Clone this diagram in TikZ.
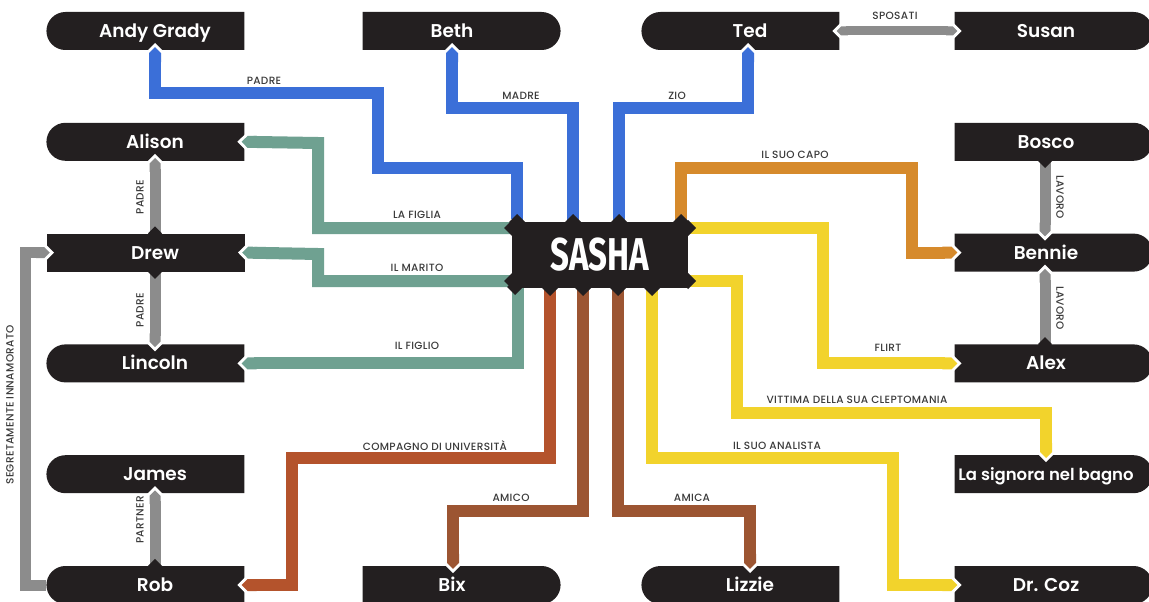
\documentclass[tikz,border=0pt]{standalone}
\usepackage{fontspec}
\setmainfont{Poppins}
\IfFontExistsTF{Poppins SemiBold}
  {\newfontfamily\namefont{Poppins SemiBold}}
  {\IfFontExistsTF{Poppins Medium}{\newfontfamily\namefont{Poppins Medium}}{\newfontfamily\namefont{Poppins}}}
\IfFontExistsTF{Poppins Medium}
  {\newfontfamily\lblfont{Poppins Medium}[LetterSpace=3]}
  {\newfontfamily\lblfont{Poppins}[LetterSpace=4]}
\newfontfamily\sashafont{Fira Sans}
\usetikzlibrary{positioning,shapes.misc,arrows.meta}

\definecolor{boxblack}{HTML}{231F20}
\definecolor{relblue}{HTML}{3B6FD8}
\definecolor{relteal}{HTML}{6FA191}
\definecolor{relorange}{HTML}{D68A2C}
\definecolor{relyellow}{HTML}{F2D32C}
\definecolor{relrust}{HTML}{B4532C}
\definecolor{relbrown}{HTML}{9C5532}
\definecolor{relgray}{HTML}{8C8C8C}
\definecolor{labelgray}{HTML}{3A3A3A}

% name text pushed sideways inside its box
\newcommand{\nm}[2]{\makebox[0pt]{\hspace{#1}#2}}

\tikzset{
  person/.style={fill=boxblack, text=white, minimum width=198pt, minimum height=38pt,
    inner sep=0pt, text height=13pt, text depth=0pt, font=\namefont\fontsize{18.5}{18.5}\selectfont},
  roundleft/.style={person, rounded rectangle, rounded rectangle right arc=none},
  roundright/.style={person, rounded rectangle, rounded rectangle left arc=none},
  squarebox/.style={person, rectangle},
  rel/.style={line width=12pt, -{Triangle Cap}, shorten >=-3pt,
    preaction={draw=white, line width=18pt, -{Triangle Cap}, shorten >=-7.2pt}},
  mutual/.style={line width=9pt, {Triangle Cap}-{Triangle Cap}, shorten >=-3pt, shorten <=-3pt,
    preaction={draw=white, line width=15pt, {Triangle Cap}-{Triangle Cap},
      shorten >=-7.2pt, shorten <=-7.2pt}},
  lbl/.style={font=\lblfont\fontsize{10.5}{10.5}\selectfont, text=labelgray, inner sep=0pt}
}

\begin{document}
\begin{tikzpicture}[x=1pt, y=-1pt, node distance=110.8pt]
  \useasboundingbox (0,0) rectangle (1149,602);

  % people
  \node[roundleft] (andy) at (146,31) {\nm{18pt}{Andy Grady}};
  \node[roundleft] (alison) [below of=andy] {\nm{18pt}{Alison}};
  \node[squarebox] (drew) [below of=alison] {\nm{18pt}{Drew}};
  \node[roundleft] (lincoln) [below of=drew] {\nm{18pt}{Lincoln}};
  \node[roundleft] (james) [below of=lincoln] {\nm{18pt}{James}};
  \node[roundleft] (rob) [below of=james] {\nm{18pt}{Rob}};

  \node[roundright] (beth) at (461,31) {\nm{-18pt}{Beth}};
  \node[roundright] (bix) at (461,585) {\nm{-18pt}{Bix}};
  \node[roundleft] (ted) at (741,31) {\nm{18pt}{Ted}};
  \node[roundleft] (lizzie) at (741,585) {\nm{18pt}{Lizzie}};

  \node[roundright] (susan) at (1053,31) {\nm{-14pt}{Susan}};
  \node[roundright] (bosco) [below of=susan] {\nm{-14pt}{Bosco}};
  \node[roundright] (bennie) [below of=bosco] {\nm{-14pt}{Bennie}};
  \node[roundright] (alex) [below of=bennie] {\nm{-14pt}{Alex}};
  \node[roundright] (signora) [below of=alex] {\nm{-14pt}{\fontsize{16.5}{16.5}\selectfont La signora nel bagno}};
  \node[roundright] (coz) [below of=signora] {\nm{-14pt}{Dr. Coz}};

  \node[fill=boxblack, minimum width=176pt, minimum height=66pt, inner sep=0pt, text=white]
    (sasha) at (600,255) {\raisebox{-5pt}{\sashafont\bfseries\fontsize{46}{46}\selectfont\scalebox{0.72}[1]{SASHA}}};

  % family (blue)
  \draw[rel, relblue] ([xshift=5pt]sasha.north west) |- (378,168) |- (155,93) -- ([xshift=9pt]andy.south);
  \draw[rel, relblue] ([xshift=-27pt]sasha.north) |- (452,108) -- ([xshift=-9pt]beth.south);
  \draw[rel, relblue] ([xshift=19pt]sasha.north) |- (748,108) -- ([xshift=7pt]ted.south);

  % husband and children (teal)
  \draw[rel, relteal] ([yshift=27pt]sasha.west) -| (318,143) -- (alison.east);
  \draw[rel, relteal] ([yshift=-26pt]sasha.west) -| (318,254) -- (drew.east);
  \draw[rel, relteal] ([xshift=6pt]sasha.south west) |- (lincoln.east);

  % work and the rest (orange, yellow)
  \draw[rel, relorange] ([xshift=-7pt]sasha.north east) |- (912,168) |- (bennie.west);
  \draw[rel, relyellow] ([yshift=27pt]sasha.east) -| (823,300) |- (alex.west);
  \draw[rel, relyellow] ([yshift=-26pt]sasha.east) -| (737,413) -| ([xshift=-7pt]signora.north);
  \draw[rel, relyellow] ([xshift=52pt]sasha.south) |- (893,458) |- (coz.west);

  % friends (brown)
  \draw[rel, relrust] ([xshift=-50pt]sasha.south) |- (292,458) |- (rob.east);
  \draw[rel, relbrown] ([xshift=-17pt]sasha.south) |- (453,511) -- ([xshift=-8pt]bix.north);
  \draw[rel, relbrown] ([xshift=18pt]sasha.south) |- (750,511) -- ([xshift=9pt]lizzie.north);

  % among the others (gray)
  \draw[mutual, relgray] (ted.east) -- (susan.west);
  \draw[rel, relgray, line width=11pt] ([xshift=9pt]drew.north) -- ([xshift=9pt]alison.south);
  \draw[rel, relgray, line width=11pt] ([xshift=9pt]drew.south) -- ([xshift=9pt]lincoln.north);
  \draw[rel, relgray, line width=11pt] ([xshift=9pt]rob.north) -- ([xshift=9pt]james.south);
  \draw[rel, relgray, line width=11pt] (rob.west) -| (25,300) |- (drew.west);
  \draw[rel, relgray, line width=11pt] ([xshift=-8pt]bosco.south) -- ([xshift=-8pt]bennie.north);
  \draw[rel, relgray, line width=11pt] ([xshift=-8pt]alex.north) -- ([xshift=-8pt]bennie.south);

  % studs where lines leave a box
  \foreach \p in {(517,222),(573,222),(619,222),(681,222),(512,228),(512,281),(688,228),(688,281),
                  (550,288),(583,288),(618,288),(652,288),(515,287)}
    \fill[boxblack] \p +(-8,0) -- +(0,-8) -- +(8,0) -- +(0,8) -- cycle;
  \foreach \a/\d in {drew.north/9,drew.south/9,rob.north/9,bosco.south/-8,alex.north/-8}
    \fill[boxblack] ([xshift=\d pt]\a) +(-7,0) -- +(0,-7) -- +(7,0) -- +(0,7) -- cycle;

  % labels
  \node[lbl] (padreA) at (264,81) {PADRE};
  \node[lbl] (madre) at (521,96) {MADRE};
  \node[lbl] (zio) at (677,96) {ZIO};
  \node[lbl] (sposati) at (895,16) {SPOSATI};
  \node[lbl] (capo) at (795,155) {IL SUO CAPO};
  \node[lbl] (figlia) at (417,215) {LA FIGLIA};
  \node[lbl] (marito) at (417,268) {IL MARITO};
  \node[lbl] (figlio) at (417,346) {IL FIGLIO};
  \node[lbl] (flirt) at (888,348) {FLIRT};
  \node[lbl] (vittima) at (857,400) {VITTIMA DELLA SUA CLEPTOMANIA};
  \node[lbl] (analista) at (777,446) {IL SUO ANALISTA};
  \node[lbl] (compagno) at (435,446) {COMPAGNO DI UNIVERSITÀ};
  \node[lbl] (amico) at (511,498) {AMICO};
  \node[lbl] (amica) at (692,498) {AMICA};
  \node[lbl, rotate=90] (padreB) at (140,197) {PADRE};
  \node[lbl, rotate=90] (padreC) at (140,310) {PADRE};
  \node[lbl, rotate=90] (partner) at (140,520) {PARTNER};
  \node[lbl, rotate=90] (segreto) at (10,405) {SEGRETAMENTE INNAMORATO};
  \node[lbl, rotate=-90] (lavoroA) at (1060,197) {LAVORO};
  \node[lbl, rotate=-90] (lavoroB) at (1060,308) {LAVORO};
\end{tikzpicture}
\end{document}
